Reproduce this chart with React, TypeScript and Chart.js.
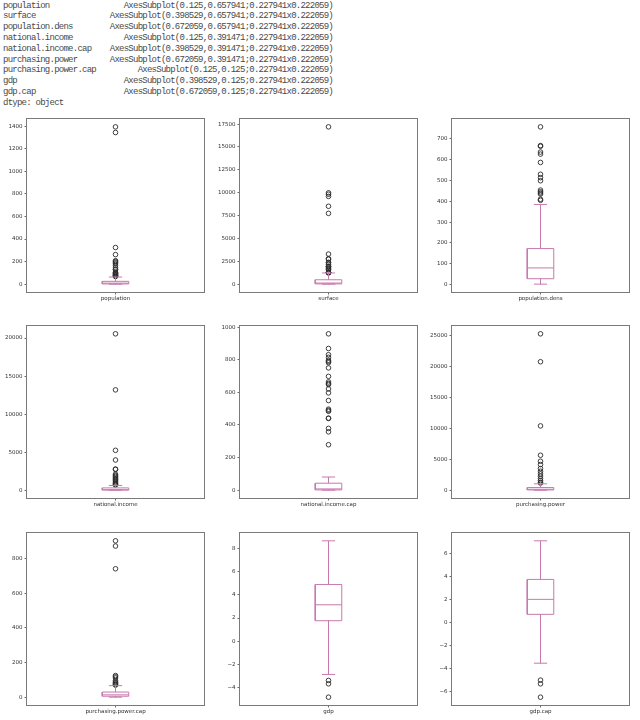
import React, { useEffect, useRef } from "react";
import { Chart, registerables } from "chart.js";

Chart.register(...registerables);

// ---------- header text (pandas Series print-out) ----------
const headerNames = [
  "population",
  "surface",
  "population.dens",
  "national.income",
  "national.income.cap",
  "purchasing.power",
  "purchasing.power.cap",
  "gdp",
  "gdp.cap",
];
const headerValues = [
  "AxesSubplot(0.125,0.657941;0.227941x0.222059)",
  "AxesSubplot(0.398529,0.657941;0.227941x0.222059)",
  "AxesSubplot(0.672059,0.657941;0.227941x0.222059)",
  "AxesSubplot(0.125,0.391471;0.227941x0.222059)",
  "AxesSubplot(0.398529,0.391471;0.227941x0.222059)",
  "AxesSubplot(0.672059,0.391471;0.227941x0.222059)",
  "AxesSubplot(0.125,0.125;0.227941x0.222059)",
  "AxesSubplot(0.398529,0.125;0.227941x0.222059)",
  "AxesSubplot(0.672059,0.125;0.227941x0.222059)",
];
const headerFooter = "dtype: object";

// ---------- box plot data: [lower whisker, q1, median, q3, upper whisker] ----------
const populationStats = [0.1, 2, 9, 25, 63];
const populationOutliers = [1395, 1345, 325, 262, 208, 200, 190, 180, 165, 145, 130, 127, 105, 100, 95, 90, 83, 80, 78, 70, 68];
const populationTicks = [0, 200, 400, 600, 800, 1000, 1200, 1400];

const surfaceStats = [0.3, 28, 120, 480, 1220];
const surfaceOutliers = [17200, 9985, 9834, 9597, 8516, 7741, 3287, 2780, 2725, 2382, 2345, 2150, 1964, 1905, 1886, 1760, 1648, 1564, 1285, 1284, 1267, 1247, 1240];
const surfaceTicks = [0, 2500, 5000, 7500, 10000, 12500, 15000, 17500];

const densStats = [2, 28, 80, 173, 385];
const densOutliers = [758, 668, 665, 637, 627, 587, 530, 514, 499, 454, 446, 440, 435, 410, 405];
const densTicks = [0, 100, 200, 300, 400, 500, 600, 700];

const incomeStats = [0, 15, 60, 300, 620];
const incomeOutliers = [20560, 13190, 5240, 3970, 2780, 2720, 2100, 1950, 1800, 1650, 1500, 1400, 1250, 1100, 950, 850, 750, 680];
const incomeTicks = [0, 5000, 10000, 15000, 20000];

const incomeCapStats = [0.2, 2, 8, 43, 81];
const incomeCapOutliers = [959, 869, 831, 815, 797, 790, 782, 750, 698, 664, 655, 648, 621, 597, 550, 497, 490, 484, 442, 440, 379, 358, 279];
const incomeCapTicks = [0, 200, 400, 600, 800, 1000];

const powerStats = [2, 40, 150, 430, 1030];
const powerOutliers = [25270, 20760, 10390, 5650, 4680, 4150, 3500, 3070, 2640, 2260, 1880, 1560, 1290, 1150];
const powerTicks = [0, 5000, 10000, 15000, 20000, 25000];

const powerCapStats = [0.5, 6, 14, 30, 67];
const powerCapOutliers = [901, 871, 740, 125, 118, 111, 95, 88, 83, 78, 73, 70];
const powerCapTicks = [0, 200, 400, 600, 800];

const gdpStats = [-2.88, 1.77, 3.15, 4.91, 8.69];
const gdpOutliers = [-3.4, -3.69, -4.85];
const gdpTicks = [-4, -2, 0, 2, 4, 6, 8];

const gdpCapStats = [-3.55, 0.69, 1.99, 3.72, 7.07];
const gdpCapOutliers = [-5.02, -5.34, -6.5];
const gdpCapTicks = [-6, -4, -2, 0, 2, 4, 6];

const panelStats = [populationStats, surfaceStats, densStats, incomeStats, incomeCapStats, powerStats, powerCapStats, gdpStats, gdpCapStats];
const panelOutliers = [populationOutliers, surfaceOutliers, densOutliers, incomeOutliers, incomeCapOutliers, powerOutliers, powerCapOutliers, gdpOutliers, gdpCapOutliers];
const panelTicks = [populationTicks, surfaceTicks, densTicks, incomeTicks, incomeCapTicks, powerTicks, powerCapTicks, gdpTicks, gdpCapTicks];

// ---------- layout (styling, not data) ----------
const COL_LEFT = [27, 240, 452];
const COL_RIGHT = [204, 417, 629];
const ROW_TOP = [119, 326, 533];
const ROW_BOTTOM = [292, 498, 705];
const Y_AXIS_W = 34;
const X_AXIS_H = 18;
const PAD = 6;

const BOX_COLOR = "#c779ad";
const FLIER_COLOR = "#2a2a2a";
const SPINE_COLOR = "#7a7a7a";
const TICK_COLOR = "#333";
const TICK_FONT = { family: "DejaVu Sans", size: 5.5 };
const BOX_HALF = 0.075;
const CAP_HALF = 0.0375;

const framePlugin = {
  id: "frame",
  afterDatasetsDraw(chart: any) {
    const { ctx, chartArea } = chart;
    const { left, top, right, bottom } = chartArea;
    ctx.save();
    ctx.strokeStyle = SPINE_COLOR;
    ctx.lineWidth = 1;
    ctx.strokeRect(left - 0.5, top - 0.5, right - left + 1, bottom - top + 1);
    ctx.restore();
  },
};

function fmt(v: number) {
  return v < 0 ? "\u2212" + Math.abs(v) : String(v);
}

function buildDatasets(stats: number[], outliers: number[]) {
  const [lo, q1, med, q3, hi] = stats;
  const seg = (pts: { x: number; y: number }[]) => ({
    data: pts,
    showLine: true,
    borderColor: BOX_COLOR,
    borderWidth: 1,
    borderJoinStyle: "miter",
    pointRadius: 0,
    fill: false,
    tension: 0,
  });
  return [
    seg([
      { x: 1 - BOX_HALF, y: q1 },
      { x: 1 + BOX_HALF, y: q1 },
      { x: 1 + BOX_HALF, y: q3 },
      { x: 1 - BOX_HALF, y: q3 },
      { x: 1 - BOX_HALF, y: q1 },
    ]),
    seg([
      { x: 1 - BOX_HALF, y: med },
      { x: 1 + BOX_HALF, y: med },
    ]),
    seg([
      { x: 1, y: q1 },
      { x: 1, y: lo },
    ]),
    seg([
      { x: 1, y: q3 },
      { x: 1, y: hi },
    ]),
    seg([
      { x: 1 - CAP_HALF, y: lo },
      { x: 1 + CAP_HALF, y: lo },
    ]),
    seg([
      { x: 1 - CAP_HALF, y: hi },
      { x: 1 + CAP_HALF, y: hi },
    ]),
    {
      data: outliers.map((y) => ({ x: 1, y })),
      showLine: false,
      pointRadius: 2.3,
      pointBorderWidth: 0.9,
      pointBorderColor: FLIER_COLOR,
      pointBackgroundColor: "rgba(0,0,0,0)",
    },
  ];
}

function BoxPanel({ index }: { index: number }) {
  const ref = useRef<HTMLCanvasElement | null>(null);
  const col = index % 3;
  const row = Math.floor(index / 3);
  const L = COL_LEFT[col];
  const R = COL_RIGHT[col];
  const T = ROW_TOP[row];
  const B = ROW_BOTTOM[row];
  const width = R - L + Y_AXIS_W + PAD;
  const height = B - T + PAD + X_AXIS_H;

  useEffect(() => {
    const stats = panelStats[index];
    const outliers = panelOutliers[index];
    const ticks = panelTicks[index];
    const name = headerNames[index];
    const all = [stats[0], stats[4], ...outliers];
    const lo = Math.min(...all);
    const hi = Math.max(...all);
    const margin = (hi - lo) * 0.05;

    const chart = new Chart(ref.current as HTMLCanvasElement, {
      type: "scatter",
      data: { datasets: buildDatasets(stats, outliers) as any },
      options: {
        responsive: false,
        animation: false,
        events: [],
        layout: { padding: { left: 0, top: PAD, right: PAD, bottom: 0 } },
        plugins: { legend: { display: false }, tooltip: { enabled: false } },
        scales: {
          x: {
            type: "linear",
            min: 0.5,
            max: 1.5,
            afterBuildTicks: (s: any) => {
              s.ticks = [{ value: 1 }];
            },
            afterFit: (s: any) => {
              s.height = X_AXIS_H;
            },
            ticks: {
              callback: () => name,
              maxRotation: 0,
              autoSkip: false,
              font: TICK_FONT,
              color: TICK_COLOR,
              padding: 1,
            },
            grid: { drawOnChartArea: false, drawTicks: true, tickLength: 2.5, color: "#444", lineWidth: 0.8 },
            border: { display: false },
          },
          y: {
            type: "linear",
            min: lo - margin,
            max: hi + margin,
            afterBuildTicks: (s: any) => {
              s.ticks = ticks.map((v) => ({ value: v }));
            },
            afterFit: (s: any) => {
              s.width = Y_AXIS_W;
            },
            ticks: {
              callback: (v: any) => fmt(Number(v)),
              font: TICK_FONT,
              color: TICK_COLOR,
              padding: 2,
              autoSkip: false,
            },
            grid: { drawOnChartArea: false, drawTicks: true, tickLength: 2.5, color: "#444", lineWidth: 0.8 },
            border: { display: false },
          },
        },
      } as any,
      plugins: [framePlugin],
    });
    return () => chart.destroy();
  }, [index]);

  return (
    <canvas
      ref={ref}
      width={width}
      height={height}
      style={{
        position: "absolute",
        left: L - Y_AXIS_W,
        top: T - PAD,
        width,
        height,
      }}
    />
  );
}

export default function App() {
  return (
    <div
      style={{
        position: "absolute",
        left: 0,
        top: 0,
        width: 640,
        height: 720,
        background: "#fff",
        overflow: "hidden",
      }}
    >
      <div
        style={{
          position: "absolute",
          left: 0,
          top: 0.6,
          fontFamily: "'Liberation Mono', monospace",
          fontSize: 9,
          letterSpacing: "-0.75px",
          color: "#4a4a4a",
          lineHeight: "10.8px",
          whiteSpace: "pre",
        }}
      >
        {headerNames.map((n, i) => (
          <div key={n} style={{ position: "relative", width: 333, height: 10.8 }}>
            <span style={{ position: "absolute", left: 3 }}>{n}</span>
            <span style={{ position: "absolute", right: 0 }}>{headerValues[i]}</span>
          </div>
        ))}
        <div style={{ position: "relative", height: 10.8 }}>
          <span style={{ position: "absolute", left: 3 }}>{headerFooter}</span>
        </div>
      </div>
      {panelStats.map((_, i) => (
        <BoxPanel key={i} index={i} />
      ))}
    </div>
  );
}
